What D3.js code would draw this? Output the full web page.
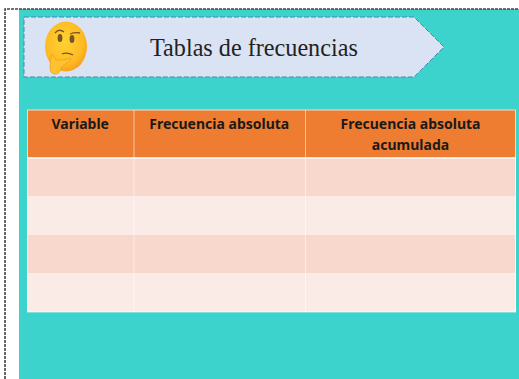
<!DOCTYPE html>
<html lang="en">
<head>
<meta charset="UTF-8">
<title>Tablas de frecuencias</title>
<script src="https://cdnjs.cloudflare.com/ajax/libs/d3/7.8.5/d3.min.js"></script>
<style>
    body { margin: 0; background: #fff; overflow: hidden; }
    svg { display: block; }
    .title { font-family: "Liberation Serif", serif; font-size: 24.2px; fill: #222; }
    .head { font-family: "Noto Sans", sans-serif; font-weight: 700; font-size: 14px; fill: #1a1a1a; text-anchor: middle; }
</style>
</head>
<body>
<div id="chart"></div>
<script>
// table content
const titleText = "Tablas de frecuencias";
const columns = ["Variable", "Frecuencia absoluta", "Frecuencia absoluta|acumulada"];
const rowBands = ["r1", "r2", "r3", "r4"];

const svg = d3.select("#chart").append("svg").attr("width", 519).attr("height", 379);

// page outline and teal panel
svg.append("rect").attr("x", 19).attr("y", 9).attr("width", 500).attr("height", 370).attr("fill", "#3bd3cc");
svg.append("path").attr("d", "M5,379V9H519")
    .attr("fill", "none").attr("stroke", "#444").attr("stroke-width", 1.6).attr("stroke-dasharray", "3 1");

// title banner
svg.append("path").attr("d", "M24,17H414L444,47L414,77H24Z")
    .attr("fill", "#dae3f3").attr("stroke", "#4a86b0").attr("stroke-width", 1).attr("stroke-dasharray", "5 2");
svg.append("text").attr("class", "title").attr("x", 150).attr("y", 56).text(titleText);

// thinking face
const defs = svg.append("defs");
const grad = defs.append("radialGradient").attr("id", "face").attr("cx", "45%").attr("cy", "40%").attr("r", "65%");
grad.append("stop").attr("offset", "0%").attr("stop-color", "#ffd335");
grad.append("stop").attr("offset", "70%").attr("stop-color", "#fdbb22");
grad.append("stop").attr("offset", "100%").attr("stop-color", "#f59a1c");
const emoji = svg.append("g");
emoji.append("ellipse").attr("cx", 66).attr("cy", 46.5).attr("rx", 21).attr("ry", 25).attr("fill", "url(#face)");
emoji.append("ellipse").attr("cx", 60).attr("cy", 38).attr("rx", 2.4).attr("ry", 4).attr("fill", "#7a5524");
emoji.append("ellipse").attr("cx", 72).attr("cy", 39).attr("rx", 2.4).attr("ry", 4).attr("fill", "#7a5524");
emoji.append("path").attr("d", "M55,33Q59,28 64,32").attr("fill", "none").attr("stroke", "#7a5524").attr("stroke-width", 1.3);
emoji.append("path").attr("d", "M70,34Q75,32 80,33").attr("fill", "none").attr("stroke", "#7a5524").attr("stroke-width", 1.3);
emoji.append("path").attr("d", "M62,54Q67,52 73,55").attr("fill", "none").attr("stroke", "#7a5524").attr("stroke-width", 1.3);
emoji.append("path").attr("d", "M52,54Q55,57 56,60Q62,61 71,58Q72,61 67,63Q63,65 61,68Q60,74 55,74Q50,74 50,67Q50,60 52,54Z")
    .attr("fill", "#fdc22d").attr("stroke", "#f0a020").attr("stroke-width", 0.8);

// table scales
const xEdge = d3.scaleOrdinal().domain(columns).range([27, 133.5, 305]);
const xRight = d3.scaleOrdinal().domain(columns).range([133.5, 305, 516]);
const yRow = d3.scaleBand().domain(rowBands).range([158, 312]);
const headTop = 110;

// body bands
svg.append("g").selectAll("rect").data(rowBands).join("rect")
    .attr("x", 27).attr("width", 489)
    .attr("y", d => Math.floor(yRow(d))).attr("height", Math.ceil(yRow.bandwidth()))
    .attr("fill", (d, i) => i % 2 ? "#fbebe6" : "#f8d8cd");

// header cells
svg.append("g").selectAll("rect").data(columns).join("rect")
    .attr("x", d => xEdge(d)).attr("width", d => xRight(d) - xEdge(d))
    .attr("y", headTop).attr("height", 48)
    .attr("fill", "#ee7d31");

// grid lines
const grid = svg.append("g").attr("stroke", "#fff");
grid.selectAll("line.v").data(columns.slice(1)).join("line").attr("class", "v")
    .attr("x1", d => xEdge(d) + 0.5).attr("x2", d => xEdge(d) + 0.5)
    .attr("y1", headTop).attr("y2", 312)
    .attr("stroke-opacity", 0.55);
grid.append("line").attr("x1", 27).attr("x2", 516).attr("y1", 158).attr("y2", 158).attr("stroke-width", 1.5);
svg.append("rect").attr("x", 27.5).attr("y", 110).attr("width", 488).attr("height", 202)
    .attr("fill", "none").attr("stroke", "#fff").attr("stroke-opacity", 0.7);

// header labels
svg.append("g").selectAll("text").data(columns).join("text")
    .attr("class", "head")
    .attr("x", d => (xEdge(d) + xRight(d)) / 2)
    .attr("y", 129)
    .each(function (d) {
        d3.select(this).selectAll("tspan").data(d.split("|")).join("tspan")
            .attr("x", (xEdge(d) + xRight(d)) / 2)
            .attr("dy", (t, i) => i ? 21 : 0)
            .text(t => t);
    });
</script>
</body>
</html>
